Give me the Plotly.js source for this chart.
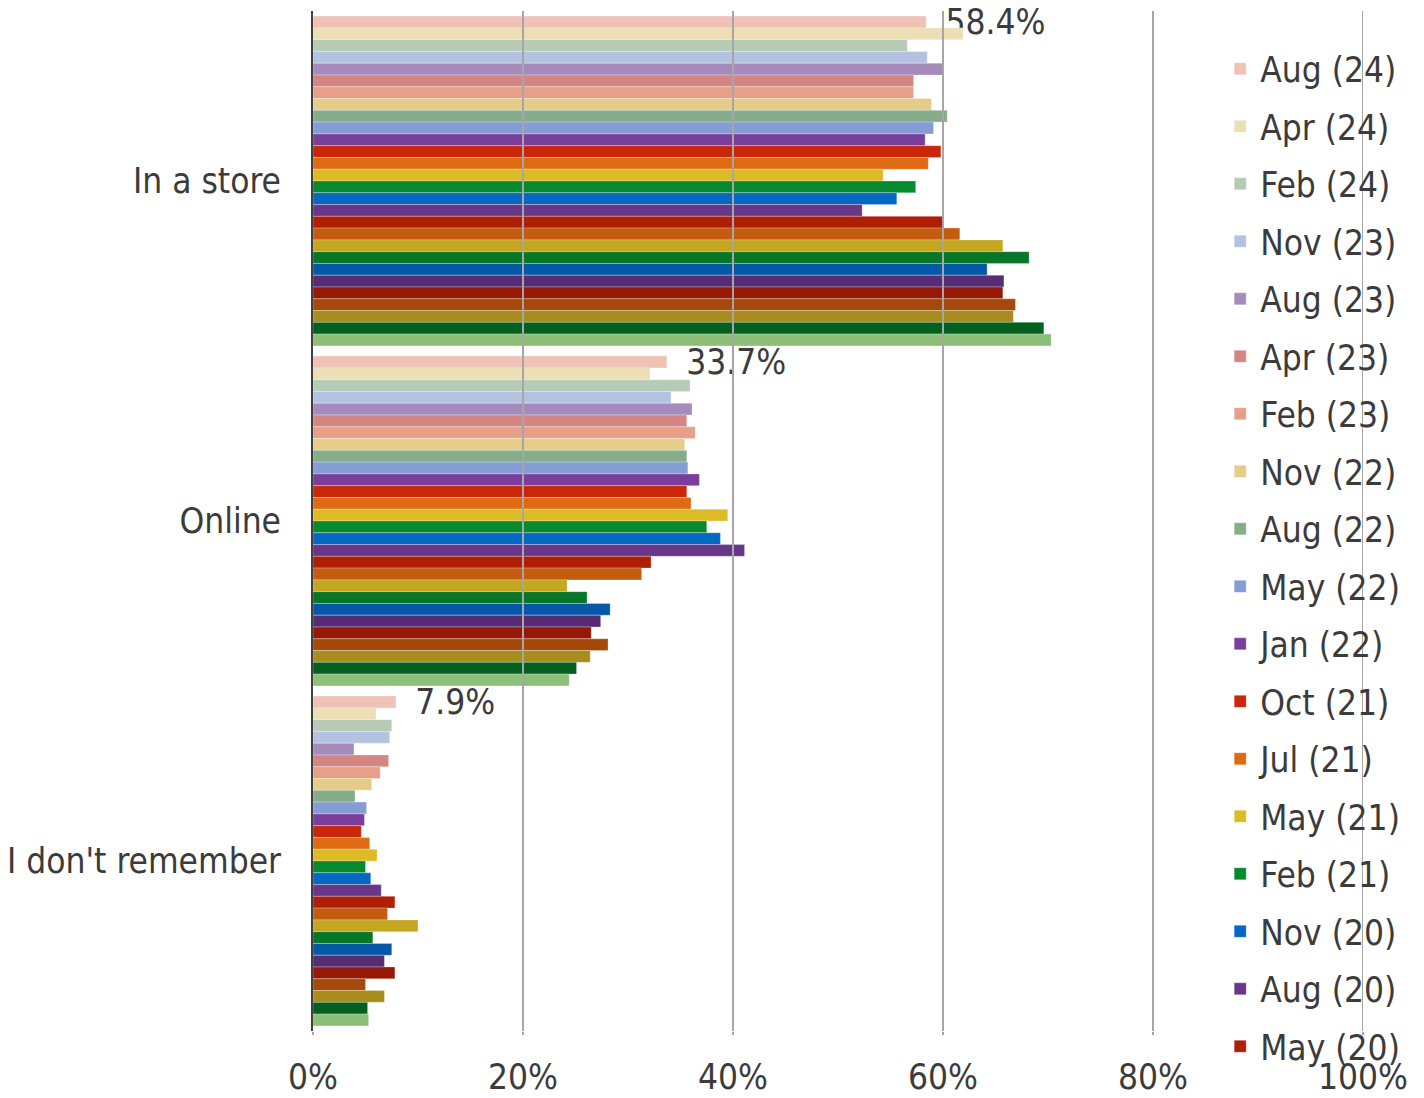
<!DOCTYPE html>
<html><head><meta charset="utf-8">
<script src="https://cdn.plot.ly/plotly-3.0.1.min.js"></script>
<style>html,body{margin:0;padding:0;background:#fff}#chart{width:1424px;height:1098px}</style>
</head><body><div id="chart"></div>
<script>
const categories = ["In a store", "Online", "I don't remember"];
const seriesNames = ["Aug (24)", "Apr (24)", "Feb (24)", "Nov (23)", "Aug (23)", "Apr (23)", "Feb (23)",
  "Nov (22)", "Aug (22)", "May (22)", "Jan (22)", "Oct (21)", "Jul (21)", "May (21)", "Feb (21)",
  "Nov (20)", "Aug (20)", "May (20)", "Feb (20)", "Nov (19)", "Aug (19)", "May (19)", "Feb (19)",
  "Nov (18)", "Aug (18)", "May (18)", "Feb (18)", "Nov (17)"];
const inStore = [58.4, 61.9, 56.6, 58.5, 60.0, 57.2, 57.2, 58.9, 60.4, 59.1, 58.3, 59.8, 58.6, 54.3,
  57.4, 55.6, 52.3, 60.0, 61.6, 65.7, 68.2, 64.2, 65.8, 65.7, 66.9, 66.7, 69.6, 70.3];
const online = [33.7, 32.1, 35.9, 34.1, 36.1, 35.6, 36.4, 35.4, 35.6, 35.7, 36.8, 35.6, 36.0, 39.5,
  37.5, 38.8, 41.1, 32.2, 31.3, 24.2, 26.1, 28.3, 27.4, 26.5, 28.1, 26.4, 25.1, 24.4];
const dontRemember = [7.9, 6.0, 7.5, 7.3, 3.9, 7.2, 6.4, 5.6, 4.0, 5.1, 4.9, 4.6, 5.4, 6.1,
  5.0, 5.5, 6.5, 7.8, 7.1, 10.0, 5.7, 7.5, 6.8, 7.8, 5.0, 6.8, 5.2, 5.3];
const colors = ["#efc2b5", "#eddfb5", "#b6cbb5", "#b4c2e2", "#a48bbb", "#d68682", "#e89f87",
  "#e5cc88", "#85ad8a", "#859dd4", "#7a3f9c", "#c9260a", "#de6a12", "#dcbc26", "#058a2e",
  "#0568c3", "#683789", "#b11e06", "#c45c10", "#c4a621", "#067628", "#0558a8", "#582c73",
  "#961805", "#a4490a", "#a88c1e", "#04601e", "#8dbf79"];
const labelledSeries = 0;
const legendCount = 18;
const tickVals = [0, 20, 40, 60, 80, 100];
const tickLabels = ["0%", "20%", "40%", "60%", "80%", "100%"];

const FONT = "'DejaVu Sans Condensed', 'DejaVu Sans', sans-serif";
const TXT = "#3b3b3b";
const GRID = "#a6a6a6";

const traces = seriesNames.map((name, i) => {
  const t = {
    type: 'bar', orientation: 'h', name: name,
    y: categories,
    x: [inStore[i], online[i], dontRemember[i]],
    marker: {color: colors[i], line: {color: 'rgba(255,255,255,0.35)', width: 0.8}},
    legendgroup: 'g' + i,
    showlegend: i < legendCount,
    hoverinfo: 'x+name',
    cliponaxis: false
  };
  if (i === labelledSeries) {
    t.texttemplate = '\u00a0\u2009%{x:.1f}%';
    t.textposition = 'outside';
    t.constraintext = 'none';
    t.textfont = {family: FONT, size: 35, color: TXT};
  }
  return t;
});

// gridlines drawn above the bars, as in the reference
const gridShapes = tickVals.filter(v => v > 0).map(v => ({
  type: 'line', layer: 'above', xref: 'x', yref: 'paper',
  x0: v, x1: v, y0: 0, y1: 1,
  line: {color: GRID, width: 2}
}));

const layout = {
  width: 1424, height: 1098,
  paper_bgcolor: '#ffffff', plot_bgcolor: '#ffffff',
  font: {family: FONT, size: 35, color: TXT},
  margin: {l: 313, r: 61, t: 10.6, b: 67.4, autoexpand: false},
  barmode: 'group', bargap: 0.03, bargroupgap: 0,
  showlegend: true,
  legend: {
    x: 0.864, xanchor: 'left', y: 0.972, yanchor: 'top',
    bgcolor: 'rgba(0,0,0,0)', borderwidth: 0,
    font: {family: FONT, size: 35, color: TXT},
    tracegroupgap: 9, traceorder: 'grouped',
    maxheight: 1098
  },
  shapes: gridShapes,
  xaxis: {
    range: [0, 100], tickvals: tickVals, ticktext: tickLabels,
    showgrid: true, gridcolor: GRID, gridwidth: 2,
    zeroline: false, showline: false,
    ticks: 'outside', ticklen: 3, tickwidth: 2, tickcolor: GRID,
    ticklabelstandoff: 12,
    tickfont: {family: FONT, size: 35, color: TXT},
    automargin: false, fixedrange: true
  },
  yaxis: {
    type: 'category', autorange: 'reversed',
    showgrid: false, zeroline: false,
    showline: true, linecolor: '#404040', linewidth: 2, layer: 'above traces',
    ticks: '', ticklabelstandoff: 23,
    tickfont: {family: FONT, size: 35, color: TXT},
    automargin: false, fixedrange: true
  }
};

Plotly.newPlot('chart', traces, layout, {displayModeBar: false, staticPlot: true});
</script>
</body></html>
